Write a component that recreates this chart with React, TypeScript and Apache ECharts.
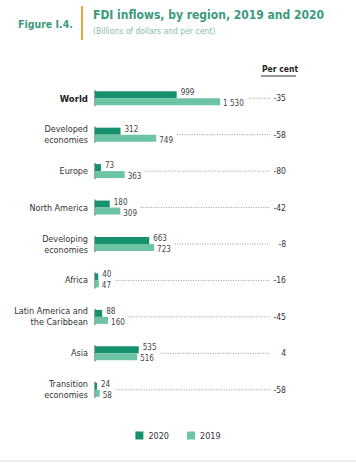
import React, { useEffect, useRef } from "react";
import * as echarts from "echarts";

const categories = [
  "World",
  "Developed\neconomies",
  "Europe",
  "North America",
  "Developing\neconomies",
  "Africa",
  "Latin America and\nthe Caribbean",
  "Asia",
  "Transition\neconomies",
];
const values2020 = [999, 312, 73, 180, 663, 40, 88, 535, 24];
const values2019 = [1530, 749, 363, 309, 723, 47, 160, 516, 58];
const perCent = [-35, -58, -80, -42, -8, -16, -45, 4, -58];

const FONT = "'DejaVu Sans Condensed', 'Liberation Sans', Arial, sans-serif";
const C2020 = "#17906d";
const C2019 = "#6cc4a5";

function fmt(v: number): string {
  return v >= 1000 ? String(v).replace(/(\d)(\d{3})$/, "$1 $2") : String(v);
}

export default function App() {
  const ref = useRef<HTMLDivElement>(null);
  useEffect(() => {
    document.body.style.margin = "0";
    const chart = echarts.init(ref.current!, null, { renderer: "svg" });
    const option: any = {
      animation: false,
      backgroundColor: "#ffffff",
      textStyle: { fontFamily: FONT },
      grid: { left: 95, right: 86, top: 80, height: 328 },
      xAxis: { type: "value", min: 0, max: 2140, show: false },
      yAxis: [
        {
          type: "category",
          data: categories,
          inverse: true,
          axisLine: { show: false },
          axisTick: { show: false },
          axisLabel: {
            margin: 7,
            color: "#333",
            fontSize: 9,
            lineHeight: 11,
            fontFamily: FONT,
            formatter: (v: string) => (v === "World" ? "{b|World}" : v),
            rich: { b: { fontWeight: "bold", fontSize: 9.5, color: "#222", fontFamily: FONT } },
          },
        },
        {
          type: "category",
          data: perCent.map(String),
          inverse: true,
          position: "right",
          axisLine: { show: false },
          axisTick: { show: false },
          axisLabel: { margin: 16, align: "right", color: "#333", fontSize: 8.5, fontFamily: FONT },
        },
      ],
      legend: {
        data: ["2020", "2019"],
        top: 426,
        left: "center",
        itemWidth: 8,
        itemHeight: 8,
        itemGap: 18,
        icon: "rect",
        textStyle: { fontSize: 9, color: "#333", fontFamily: FONT },
      },
      series: [
        {
          name: "2020",
          type: "bar",
          data: values2020,
          barWidth: 7,
          barGap: "0%",
          itemStyle: { color: C2020 },
          label: {
            show: true,
            position: "right",
            distance: 4,
            offset: [0, -2],
            fontSize: 8,
            color: "#444",
            fontFamily: FONT,
            formatter: (p: any) => fmt(p.value),
          },
        },
        {
          name: "2019",
          type: "bar",
          data: values2019,
          barWidth: 7,
          itemStyle: { color: C2019 },
          label: {
            show: true,
            position: "right",
            distance: 3,
            offset: [0, 2],
            fontSize: 8,
            color: "#444",
            fontFamily: FONT,
            formatter: (p: any) => fmt(p.value),
          },
        },
        {
          type: "custom",
          silent: true,
          data: categories.map((_, i) => [0, i]),
          renderItem: (params: any, api: any) => {
            const i = api.value(1);
            const p0 = api.coord([0, i]);
            const e20 = api.coord([values2020[i], i])[0] + 4 + fmt(values2020[i]).length * 4.2;
            const e19 = api.coord([values2019[i], i])[0] + 3 + fmt(values2019[i]).length * 4.2;
            const start = Math.max(e20, e19) + 5;
            const end = params.coordSys.x + params.coordSys.width;
            return {
              type: "group",
              children: [
                {
                  type: "line",
                  shape: { x1: p0[0], y1: p0[1] - 8, x2: p0[0], y2: p0[1] + 8 },
                  style: { stroke: "#444", lineWidth: 1 },
                },
                {
                  type: "line",
                  shape: { x1: start, y1: p0[1], x2: end, y2: p0[1] },
                  style: { stroke: "#999", lineWidth: 1, lineDash: [1, 1.5] },
                },
              ],
            };
          },
        },
      ],
      graphic: [
        {
          type: "text",
          left: 18,
          top: 18,
          style: { text: "Figure I.4.", fontSize: 10.5, fontWeight: "bold", fill: "#3a9a7e", fontFamily: FONT },
        },
        {
          type: "rect",
          left: 81,
          top: 6,
          shape: { width: 2, height: 34 },
          style: { fill: "#f0a43c" },
        },
        {
          type: "text",
          left: 93,
          top: 9,
          style: {
            text: "FDI inflows, by region, 2019 and 2020",
            fontSize: 12,
            fontWeight: "bold",
            fill: "#3a9a7e",
            fontFamily: FONT,
          },
        },
        {
          type: "text",
          left: 93,
          top: 26,
          style: { text: "(Billions of dollars and per cent)", fontSize: 8.5, fill: "#86bcae", fontFamily: FONT },
        },
        {
          type: "text",
          left: 262,
          top: 64,
          style: { text: "Per cent", fontSize: 8.5, fontWeight: "bold", fill: "#222", fontFamily: FONT },
        },
        {
          type: "line",
          shape: { x1: 261, y1: 76, x2: 296, y2: 76 },
          style: { stroke: "#333", lineWidth: 1 },
        },
        {
          type: "line",
          shape: { x1: 0, y1: 461, x2: 356, y2: 461 },
          style: { stroke: "#ddd", lineWidth: 1 },
        },
      ],
    };
    chart.setOption(option);
    return () => chart.dispose();
  }, []);
  return <div ref={ref} style={{ width: 356, height: 465 }} />;
}
